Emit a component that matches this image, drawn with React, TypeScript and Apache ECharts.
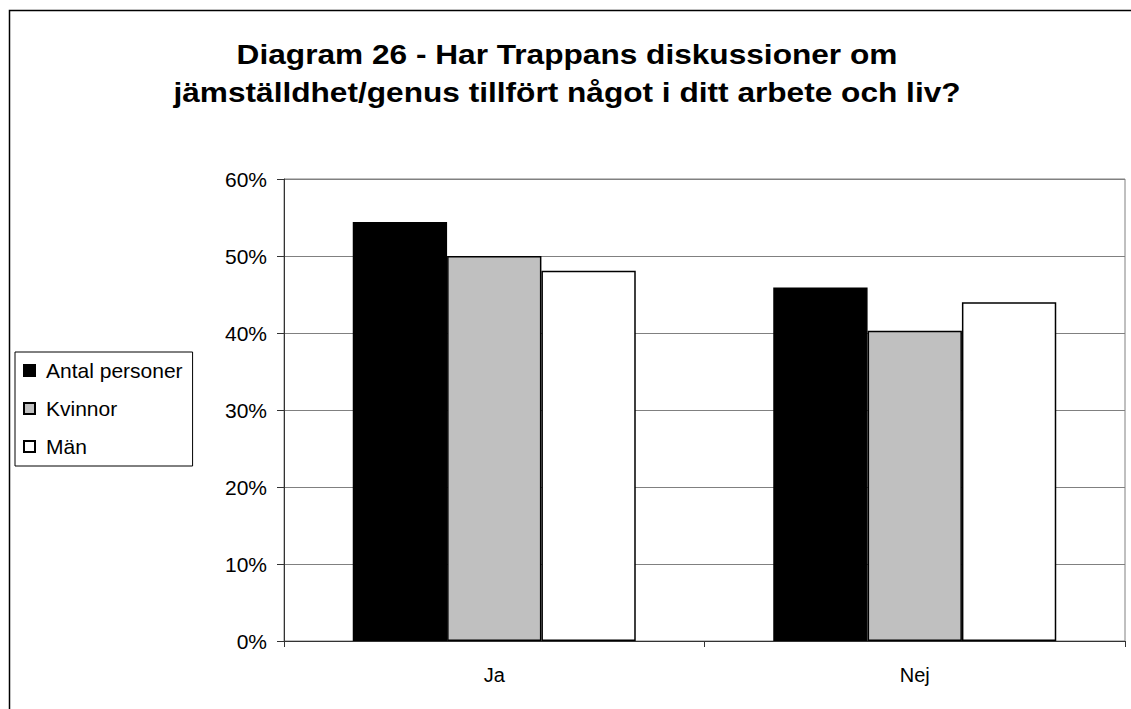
import React, { useEffect, useRef } from "react";
import * as echarts from "echarts";

const categories = ["Ja", "Nej"];
const seriesNames = ["Antal personer", "Kvinnor", "Män"];
const antalPersoner = [0.544, 0.459];
const kvinnor = [0.5, 0.403];
const man = [0.481, 0.44];
const seriesColors = ["#000000", "#C0C0C0", "#FFFFFF"];
const titleLines = [
  "Diagram 26 - Har Trappans diskussioner om",
  "jämställdhet/genus tillfört något i ditt arbete och liv?",
];

export default function App() {
  const ref = useRef<HTMLDivElement>(null);
  useEffect(() => {
    if (!ref.current) return;
    const chart = echarts.init(ref.current, undefined, { renderer: "svg" });
    const values = [antalPersoner, kvinnor, man];
    const font = "Liberation Sans, Arial, sans-serif";
    chart.setOption({
      animation: false,
      backgroundColor: "#FFFFFF",
      textStyle: { fontFamily: font },
      graphic: [
        {
          type: "rect",
          shape: { x: 9.5, y: 10.5, width: 1300, height: 1000 },
          style: { fill: "none", stroke: "#000", lineWidth: 1.5 },
          silent: true,
          z: 100,
        },
        ...titleLines.map((t, i) => ({
          type: "text",
          x: 567,
          y: 54 + i * 38,
          scaleX: 1.13,
          silent: true,
          style: {
            text: t,
            fontFamily: font,
            fontSize: 28,
            fontWeight: "bold",
            fill: "#000",
            align: "center",
            verticalAlign: "middle",
          },
        })),
      ],
      legend: {
        orient: "vertical",
        left: 15,
        top: 352,
        itemWidth: 11,
        itemHeight: 11,
        itemGap: 17,
        padding: [8, 10, 9, 8],
        borderColor: "#000",
        borderWidth: 1,
        icon: "rect",
        textStyle: { fontFamily: font, fontSize: 21, color: "#000", padding: [0, 0, 0, 6] },
        data: seriesNames,
      },
      grid: { left: 284, right: 6, top: 179, bottom: 68, show: true, borderColor: "#808080", borderWidth: 1 },
      xAxis: {
        type: "category",
        data: categories,
        axisLine: { lineStyle: { color: "#333", width: 1 } },
        axisTick: { show: true, length: 6, lineStyle: { color: "#333" } },
        axisLabel: { fontFamily: font, fontSize: 20, color: "#000", margin: 24 },
      },
      yAxis: {
        type: "value",
        min: 0,
        max: 0.6,
        interval: 0.1,
        axisLine: { show: true, lineStyle: { color: "#333", width: 1 } },
        axisTick: { show: true, length: 7, lineStyle: { color: "#333" } },
        splitLine: { show: true, lineStyle: { color: "#808080", width: 1 } },
        axisLabel: {
          fontFamily: font,
          fontSize: 21,
          color: "#000",
          margin: 17,
          formatter: (v: number) => Math.round(v * 100) + "%",
        },
      },
      series: seriesNames.map((name, i) => ({
        name,
        type: "bar",
        data: values[i],
        barGap: "0%",
        barCategoryGap: "32.7%",
        itemStyle: { color: seriesColors[i], borderColor: "#000", borderWidth: 1.5 },
      })),
    });
    return () => chart.dispose();
  }, []);
  return (
    <div
      ref={ref}
      style={{ position: "absolute", left: 0, top: 0, width: 1131, height: 709 }}
    />
  );
}
